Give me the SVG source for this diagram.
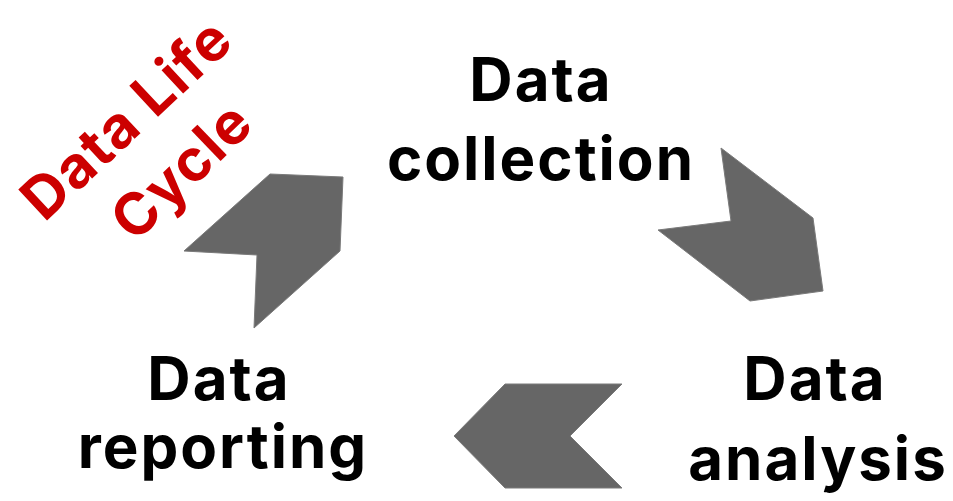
<svg xmlns="http://www.w3.org/2000/svg" width="953" height="501" viewBox="0 0 953 501">
<style>
.lbl{font-family:Inter,"Liberation Sans",sans-serif;font-weight:700;font-size:60px;letter-spacing:2px;fill:#000;text-anchor:middle}
.ttl{font-family:Inter,"Liberation Sans",sans-serif;font-weight:700;font-size:58px;letter-spacing:1.5px;fill:#cc0000;text-anchor:middle;dominant-baseline:central}
.arr{fill:#666666;stroke:#7a7a7a;stroke-width:1}
</style>
<rect width="953" height="501" fill="#fff"/>
<g id="title">
<text class="ttl" transform="translate(126,118) rotate(-43)">Data Life</text>
<text class="ttl" transform="translate(181,170) rotate(-44)">Cycle</text>
</g>
<g id="collection"><text class="lbl" x="541" y="101">Data</text><text class="lbl" x="541" y="180">collection</text></g>
<g id="analysis"><text class="lbl" x="815" y="400">Data</text><text class="lbl" x="818" y="480">analysis</text></g>
<g id="reporting"><text class="lbl" x="219" y="400">Data</text><text class="lbl" x="223" y="468">reporting</text></g>
<g id="connectors">
<polygon class="arr" points="270,174 343,177 340,251 254,328 257,255 184,251"/>
<polygon class="arr" points="721,148 813,218 823,291 750,301 658,230 731,221"/>
<polygon class="arr" points="505,384 622,384 570,436 622,488 505,488 454,436"/>
</g>
</svg>
